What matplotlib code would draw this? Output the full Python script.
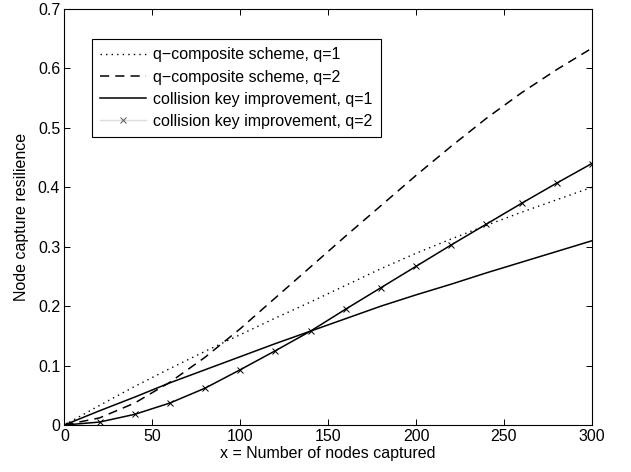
import matplotlib
matplotlib.use("Agg")
import matplotlib.pyplot as plt
from matplotlib.lines import Line2D

plt.rcParams['font.family'] = ['Liberation Sans', 'DejaVu Sans']

# nodes captured
x = [0, 20, 40, 60, 80, 100, 120, 140, 160, 180, 200, 220, 240, 260, 280, 300]

qcomp_q1 = [0, 0.033, 0.065, 0.095, 0.124, 0.152, 0.180, 0.207, 0.235, 0.263,
            0.289, 0.313, 0.336, 0.358, 0.379, 0.400]
qcomp_q2 = [0, 0.012, 0.037, 0.072, 0.114, 0.162, 0.214, 0.266, 0.318, 0.369,
            0.420, 0.469, 0.516, 0.559, 0.598, 0.634]
coll_q1 = [0, 0.024, 0.047, 0.071, 0.093, 0.115, 0.137, 0.158, 0.179, 0.200,
           0.219, 0.237, 0.256, 0.274, 0.292, 0.310]
coll_q2 = [0, 0.005, 0.018, 0.037, 0.062, 0.093, 0.125, 0.158, 0.195, 0.231,
           0.267, 0.303, 0.338, 0.373, 0.407, 0.440]

labels = ['q\u2212composite scheme, q=1', 'q\u2212composite scheme, q=2',
          'collision key improvement, q=1', 'collision key improvement, q=2']

fs = 11.5

fig = plt.figure(figsize=(6.31, 4.72), dpi=100)
ax = fig.add_axes([0.102, 0.0995, 0.836, 0.8815])

ax.plot(x, qcomp_q1, color='k', lw=1.0, ls=(0, (1, 3)))
ax.plot(x, qcomp_q2, color='k', lw=1.1, ls=(0, (6, 4)))
ax.plot(x, coll_q1, color='k', lw=1.1)
ax.plot(x, coll_q2, color='k', lw=1.1, marker='x', ms=5, mew=0.7)

handles = [
    Line2D([], [], color='k', lw=1.0, ls=(0, (1, 3))),
    Line2D([], [], color='k', lw=1.1, ls=(0, (6, 4))),
    Line2D([], [], color='k', lw=1.1),
    Line2D([], [], color='#dddddd', lw=1.0, marker='x', ms=5, mew=0.7, mec='#555555'),
]
leg = ax.legend(handles, labels, loc='upper left', bbox_to_anchor=(0.052, 0.927),
                borderaxespad=0, fontsize=fs, handlelength=2.9, handletextpad=0.45,
                labelspacing=0.45, borderpad=0.5, fancybox=False, framealpha=1,
                edgecolor='k')
leg.get_frame().set_linewidth(0.8)

ax.set_xlim(0, 300)
ax.set_ylim(0, 0.7)
ax.set_xticks([0, 50, 100, 150, 200, 250, 300])
ax.set_yticks([0, 0.1, 0.2, 0.3, 0.4, 0.5, 0.6, 0.7])
ax.set_yticklabels(['0', '0.1', '0.2', '0.3', '0.4', '0.5', '0.6', '0.7'])
ax.tick_params(direction='in', top=True, right=True, labelsize=fs, length=4,
               width=0.7, pad=3)
for s in ax.spines.values():
    s.set_linewidth(0.8)

ax.set_xlabel('x = Number of nodes captured', fontsize=fs, labelpad=1)
ax.set_ylabel('Node capture resilience', fontsize=fs, labelpad=6)

fig.savefig('out.png', dpi=100)
